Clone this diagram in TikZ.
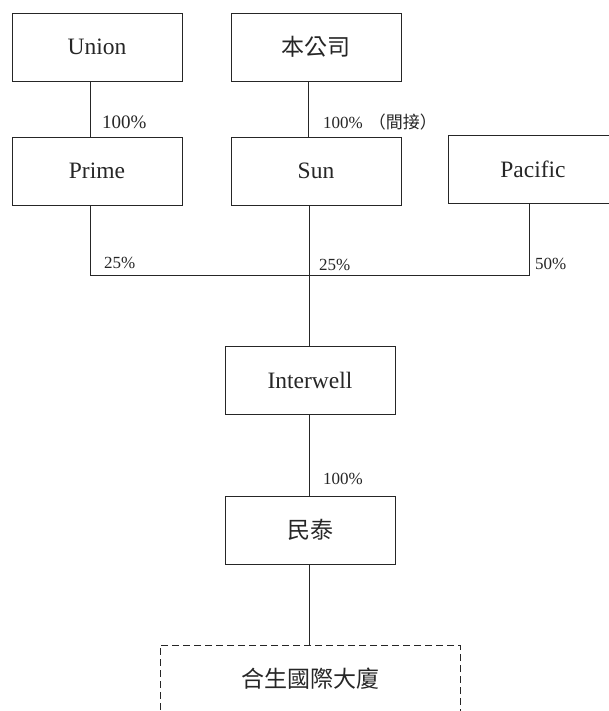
\documentclass[tikz,border=0pt]{standalone}
\usepackage{fontspec}
\setmainfont{Liberation Serif}
\newfontfamily\cjk{Noto Sans CJK TC}
\begin{document}
\begin{tikzpicture}[x=1pt,y=-1pt,
  ent/.style={draw=black!85, line width=0.8pt, minimum width=170pt, minimum height=68pt, inner sep=0pt, text=black!85, font=\fontsize{23.5}{25}\selectfont},
  pct/.style={anchor=west, inner sep=0pt, text=black!85, font=\fontsize{17}{19}\selectfont},
  ln/.style={draw=black!85, line width=0.8pt}]
\useasboundingbox (0,0) rectangle (609,711);
\clip (0,0) rectangle (609,711);
\node[ent] (union) at (97,47) {Union};
\node[ent] (parent) at (316,47) {\cjk\fontsize{23}{25}\selectfont 本公司};
\node[ent] (prime) at (97,171) {Prime};
\node[ent] (sun) at (316,171) {Sun};
\node[ent] (pacific) at (533,169) {Pacific};
\node[ent] (interwell) at (310,380.5) {Interwell};
\node[ent] (mintai) at (310,530) {\cjk\fontsize{23}{25}\selectfont 民泰};
\node[ent, dashed, dash pattern=on 7pt off 4pt, minimum width=300pt] (building) at (310,679) {\cjk\fontsize{23}{25}\selectfont 合生國際大廈};
\coordinate (busL) at (90,275);
\coordinate (busR) at (529,275);
\draw[ln] ([xshift=-7pt]union.south) -- ([xshift=-7pt]prime.north);
\draw[ln] ([xshift=-8pt]parent.south) -- ([xshift=-8pt]sun.north);
\draw[ln] ([xshift=-7pt]prime.south) -- (busL) -- (busR) -- ([xshift=-4pt]pacific.south);
\draw[ln] ([xshift=-1pt]interwell.north |- sun.south) -- ([xshift=-1pt]interwell.north);
\draw[ln] ([xshift=-1pt]interwell.south) -- ([xshift=-1pt]mintai.north);
\draw[ln] ([xshift=-1pt]mintai.south) -- ([xshift=-1pt]building.north);
\node[pct, font=\fontsize{19}{21}\selectfont] (l1) at (102,122) {100\%};
\node[pct] (l2) at (323,122) {100\%\hspace{6pt}{\cjk\fontsize{17}{19}\selectfont （間接）}};
\node[pct] (l3) at (104,263) {25\%};
\node[pct] (l4) at (319,265) {25\%};
\node[pct] (l5) at (535,264) {50\%};
\node[pct] (l6) at (323,479) {100\%};
\end{tikzpicture}
\end{document}
